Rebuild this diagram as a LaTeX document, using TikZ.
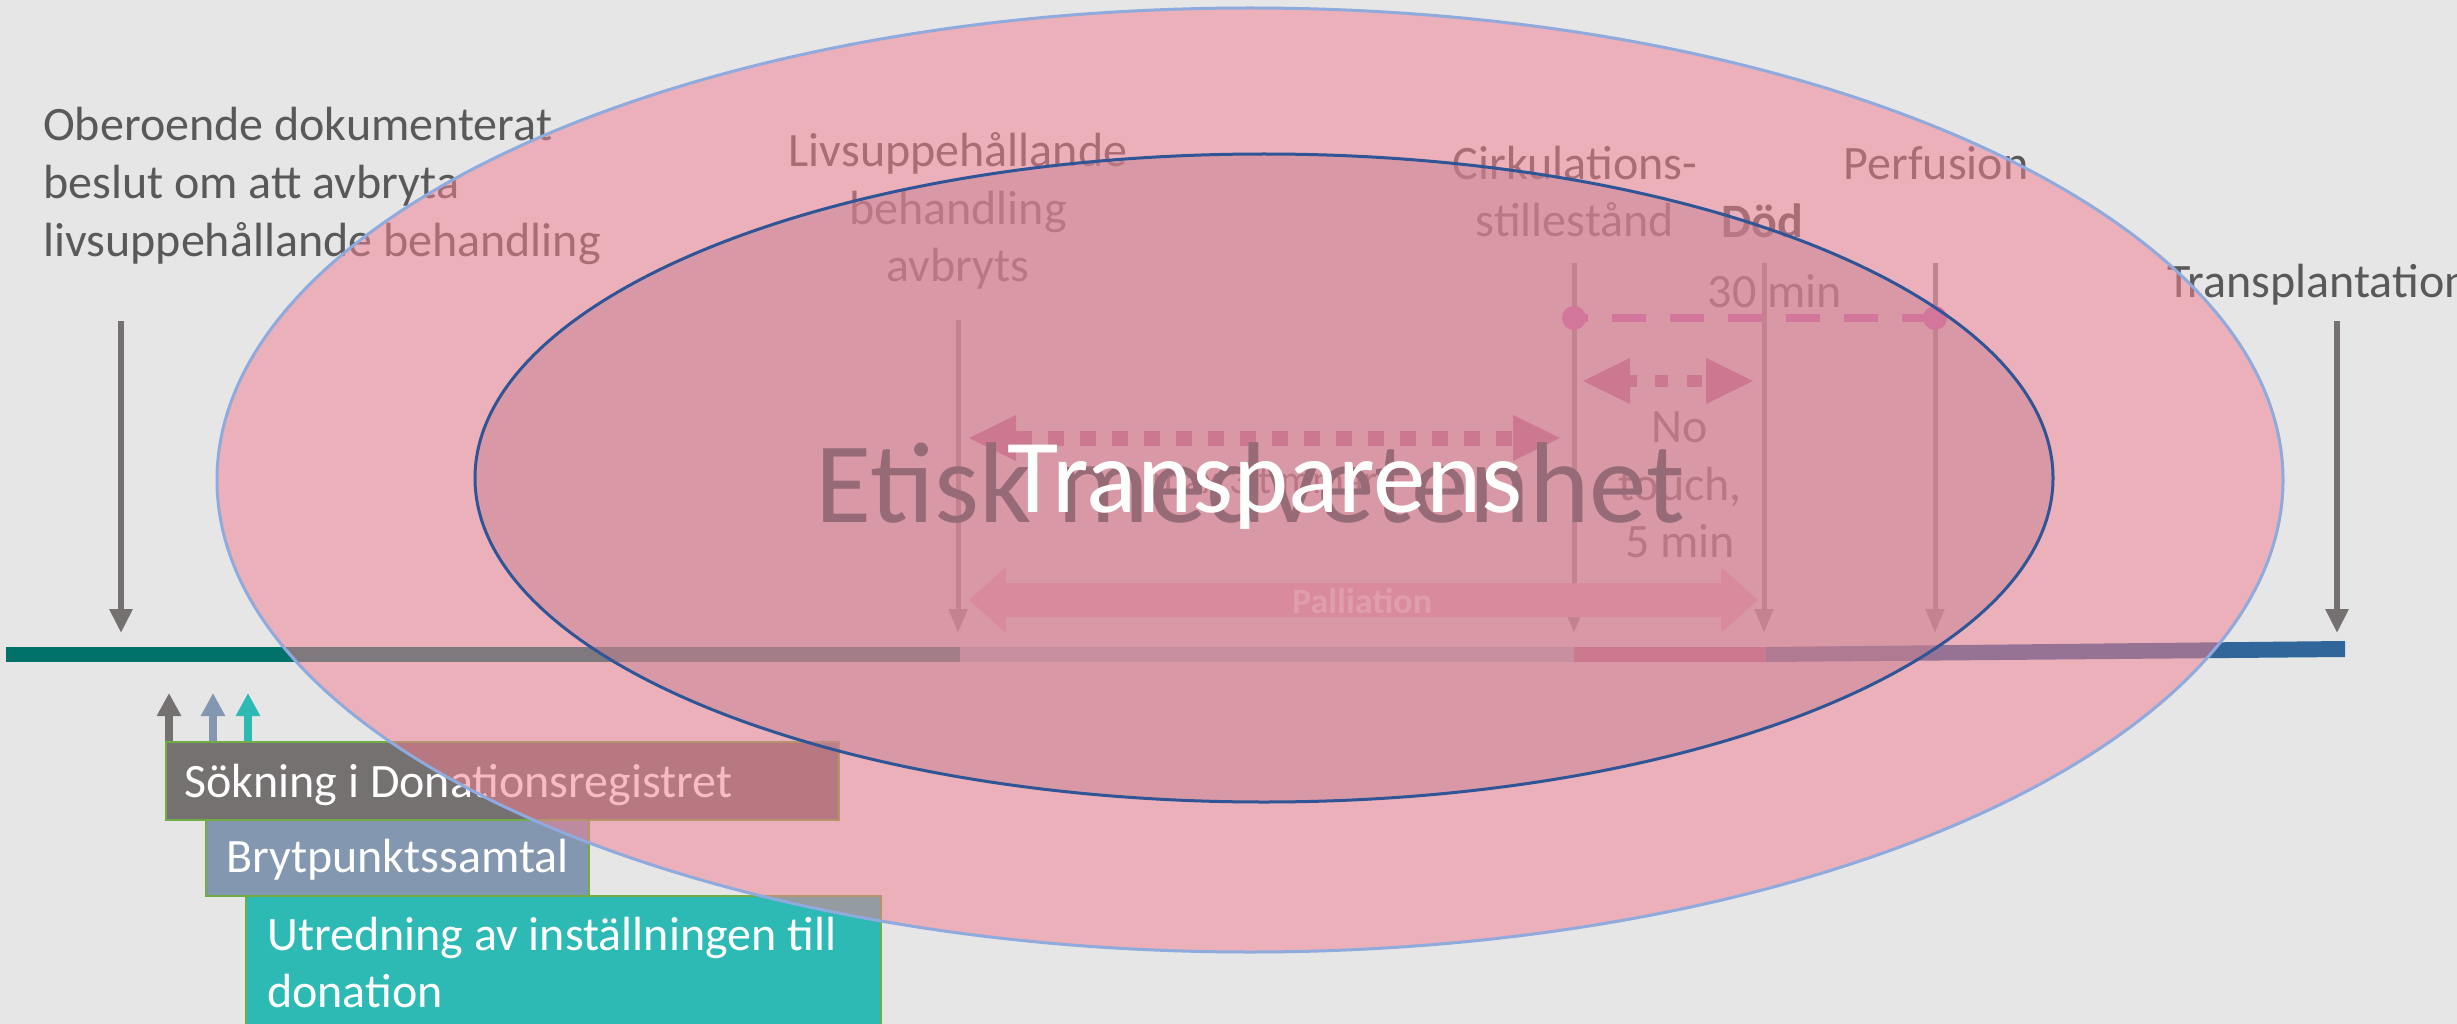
\documentclass[tikz,border=0pt]{standalone}
\usepackage{fontspec}
\setmainfont{Carlito}
\usetikzlibrary{arrows.meta}
\definecolor{bg}{RGB}{230,230,230}
\definecolor{lblgray}{RGB}{89,89,89}
\definecolor{arrgray}{RGB}{118,113,113}
\definecolor{midline}{RGB}{140,135,140}
\definecolor{teal1}{RGB}{0,114,106}
\definecolor{seg2}{RGB}{150,190,210}
\definecolor{seg3}{RGB}{175,95,142}
\definecolor{seg4}{RGB}{48,102,153}
\definecolor{dashpink}{RGB}{200,85,190}
\definecolor{dotpink}{RGB}{175,90,140}
\definecolor{pallfill}{RGB}{235,170,200}
\definecolor{outerpink}{RGB}{241,128,145}
\definecolor{innerpink}{RGB}{200,130,146}
\definecolor{outerline}{RGB}{143,170,220}
\definecolor{innerline}{RGB}{47,85,151}
\definecolor{boxgray}{RGB}{118,113,113}
\definecolor{boxblue}{RGB}{132,151,176}
\definecolor{boxteal}{RGB}{45,186,180}
\definecolor{boxedge}{RGB}{112,173,71}
\definecolor{etiskc}{RGB}{100,82,92}
\begin{document}
\begin{tikzpicture}[x=1pt,y=-1pt,
  lbl/.style={font=\fontsize{48}{58}\selectfont, text=lblgray, inner sep=0pt, anchor=base},
  lblw/.style={lbl, anchor=base west},
  boxtxt/.style={font=\fontsize{48}{58}\selectfont, text=white, inner sep=0pt, anchor=base west},
  evline/.style={midline, line width=5pt, -{Triangle[length=24pt,width=18pt]}},
  bigarrow/.style={arrgray, line width=6pt, -{Triangle[length=24pt,width=22pt]}},
  smallarrow/.style={line width=8pt, -{Triangle[length=23pt,width=23pt]}},
  boxstyle/.style={draw=boxedge, line width=1.5pt, inner sep=0pt, anchor=north west}
]
\useasboundingbox (0,0) rectangle (2457,1024);
\fill[bg] (0,0) rectangle (2457,1024);

% ---------- timeline ----------
\coordinate (t0) at (6,654.5);
\coordinate (tA) at (960,654.5);
\coordinate (tB) at (1574,654.5);
\coordinate (tC) at (1766,654.5);
\draw[teal1, line width=15pt] (t0) -- (tA);
\draw[seg2, line width=15pt] (tA) -- (tB);
\draw[seg3, line width=15pt] (tB) -- (tC);
\fill[seg4] (1766,647) -- (2345,641) -- (2345,657) -- (1766,662) -- cycle;

% ---------- left label and arrow ----------
\node[lblw] (l1) at (43,141) {Oberoende dokumenterat};
\node[lblw] (l2) at (43,199) {beslut om att avbryta};
\node[lblw] (l3) at (43,257) {livsuppehållande behandling};
\coordinate (a0s) at (121,321);
\coordinate (a0e) at (121,633);
\draw[bigarrow] (a0s) -- (a0e);

% ---------- Transplantation ----------
\node[lblw] (tr) at (2167,298) {Transplantation};
\coordinate (a5s) at (2337,321);
\coordinate (a5e) at (2337,633);
\draw[bigarrow] (a5s) -- (a5e);

% ---------- event labels ----------
\node[lbl] (e1a) at (958,167) {Livsuppehållande};
\node[lbl] (e1b) at (958,225) {behandling};
\node[lbl] (e1c) at (958,282) {avbryts};
\node[lbl] (e2a) at (1575,180) {Cirkulations-};
\node[lbl] (e2b) at (1575,237) {stillestånd};
\node[lbl, font=\fontsize{48}{58}\selectfont\bfseries] (e3) at (1762,238) {Död};
\node[lbl] (m30) at (1775,308) {30 min};
\node[lbl] (e4) at (1936,180) {Perfusion};
\node[lbl] (nt1) at (1680,442) {No};
\node[lbl] (nt2) at (1680,500) {touch,};
\node[lbl] (nt3) at (1680,557) {5 min};
\node[lbl, font=\fontsize{40}{48}\selectfont] (mx) at (1265,493) {max 3 timmar};

% ---------- event lines ----------
\coordinate (v1s) at (958,320);  \coordinate (v1e) at (958,633);
\coordinate (v2s) at (1574,263); \coordinate (v2e) at (1574,633);
\coordinate (v3s) at (1764,263); \coordinate (v3e) at (1764,633);
\coordinate (v4s) at (1935,263); \coordinate (v4e) at (1935,633);
\draw[evline] (v1s) -- (v1e);
\draw[evline] (v2s) -- (v2e);
\draw[evline] (v3s) -- (v3e);
\draw[evline] (v4s) -- (v4e);

% ---------- 30 min dashed ----------
\coordinate (d1) at (1574,318);
\coordinate (d2) at (1935,318);
\draw[dashpink, line width=8pt, dash pattern=on 34pt off 24pt, dash phase=20pt] (d1) -- (d2);
\fill[dashpink] (d1) circle[radius=12pt];
\fill[dashpink] (d2) circle[radius=12pt];

% ---------- dotted double arrow (middle) ----------
\fill[dotpink] (969,438) -- (1016,415) -- (1016,461) -- cycle;
\fill[dotpink] (1560,438) -- (1513,415) -- (1513,461) -- cycle;
\draw[dotpink, line width=15pt, dash pattern=on 16pt off 16pt] (1016,438) -- (1513,438);

% ---------- no touch arrow ----------
\fill[dotpink] (1583,381) -- (1630,358) -- (1630,404) -- cycle;
\fill[dotpink] (1753,381) -- (1706,358) -- (1706,404) -- cycle;
\draw[dotpink, line width=12pt, dash pattern=on 7pt off 18pt on 13pt off 19pt on 15pt off 60pt] (1630,381) -- (1706,381);

% ---------- Palliation arrow ----------
\fill[pallfill] (969,600) -- (1006,567) -- (1006,583) -- (1721,583) -- (1721,567) -- (1758,600)
  -- (1721,633) -- (1721,617) -- (1006,617) -- (1006,633) -- cycle;
\node[font=\fontsize{36}{42}\selectfont\bfseries, text=white, inner sep=0pt, anchor=base] (pall) at (1362,613) {Palliation};

% ---------- boxes ----------
\node[boxstyle, fill=boxgray, minimum width=673pt, minimum height=78pt] (b1) at (165,741) {};
\node[boxstyle, fill=boxblue, minimum width=383pt, minimum height=76pt] (b2) at (205,819) {};
\node[boxstyle, fill=boxteal, minimum width=635pt, minimum height=140pt] (b3) at (245,895) {};
\node[boxtxt] (b1t) at (184,797) {Sökning i Donationsregistret};
\node[boxtxt] (b2t) at (226,872) {Brytpunktssamtal};
\node[boxtxt] (b3t) at (267,950) {Utredning av inställningen till};
\node[boxtxt] (b3u) at (267,1007) {donation};

\coordinate (s1s) at (169,741); \coordinate (s1e) at (169,693);
\coordinate (s2s) at (213,741); \coordinate (s2e) at (213,693);
\coordinate (s3s) at (248,741); \coordinate (s3e) at (248,693);
\draw[smallarrow, boxgray] (s1s) -- (s1e);
\draw[smallarrow, boxblue] (s2s) -- (s2e);
\draw[smallarrow, boxteal] (s3s) -- (s3e);

% ---------- outer ellipse ----------
\draw[outerline, line width=3pt, fill=outerpink, fill opacity=0.53] (1250,480) ellipse [x radius=1033pt, y radius=472pt];
\node[font=\fontsize{115}{130}\selectfont, text=etiskc, inner sep=0pt, anchor=base] (etisk) at (1250,522) {Etisk medvetenhet};

% ---------- inner ellipse ----------
\draw[innerline, line width=3pt, fill=innerpink, fill opacity=0.5] (1264,478) ellipse [x radius=789pt, y radius=324pt];
\node[font=\fontsize{105}{120}\selectfont, text=white, inner sep=0pt, anchor=base] (transp) at (1265,512) {Transparens};
\end{tikzpicture}
\end{document}
